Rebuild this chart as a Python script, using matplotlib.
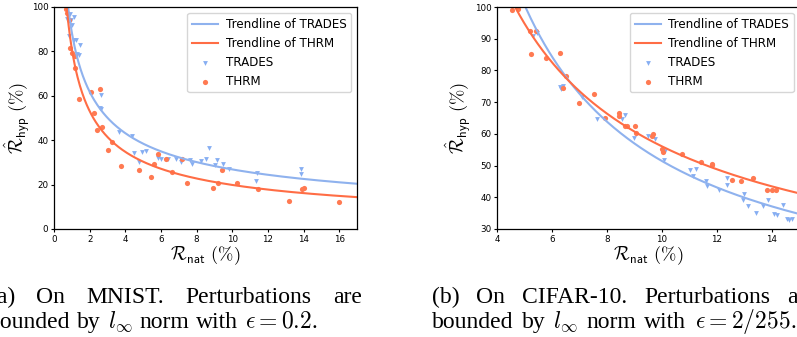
import numpy as np
import matplotlib
matplotlib.use("Agg")
import matplotlib.pyplot as plt

# ---------------------------------------------------------
# Data
# ---------------------------------------------------------
# (a) MNIST
mnist_trades_x = [0.71, 0.80, 0.89, 0.93, 1.00, 0.86, 1.10, 1.15, 1.26, 1.45, 1.30, 1.40,
                  2.66, 2.57, 2.65, 3.62, 4.39, 4.48, 4.94, 5.17, 4.78, 5.85, 6.00, 6.38,
                  6.84, 7.12, 7.62, 7.73, 8.23, 8.50, 8.70, 9.03, 9.12, 9.48, 9.81, 11.39,
                  11.36, 13.85, 13.85]
mnist_trades_y = [94.4, 96.0, 97.0, 94.0, 92.0, 87.0, 95.5, 85.0, 85.0, 83.0, 79.0, 78.5,
                  60.2, 54.6, 54.0, 43.7, 41.7, 34.2, 34.7, 35.1, 30.2, 32.1, 31.4, 31.7,
                  31.4, 30.2, 31.2, 29.1, 30.5, 31.4, 36.5, 29.0, 31.2, 29.1, 26.9, 25.2,
                  21.6, 27.2, 24.9]
mnist_thrm_x = [0.65, 0.72, 0.85, 0.89, 0.99, 1.17, 1.17, 1.41, 2.06, 2.25, 2.42, 2.57,
                2.70, 3.27, 3.03, 3.77, 4.76, 5.46, 5.63, 5.82, 6.28, 6.62, 7.16, 7.45,
                8.94, 9.18, 9.40, 10.26, 11.45, 13.20, 13.90, 14.00, 15.98]
mnist_thrm_y = [99.0, 97.5, 94.0, 81.5, 79.4, 77.9, 72.7, 58.7, 61.7, 52.3, 44.4, 63.2,
                46.0, 39.3, 35.7, 28.4, 26.4, 23.3, 29.4, 33.9, 31.4, 25.7, 31.5, 20.6,
                18.3, 20.6, 26.7, 20.9, 17.9, 12.6, 17.9, 18.5, 12.2]

# (b) CIFAR-10
cifar_trades_x = [5.30, 5.44, 6.29, 6.39, 6.33, 7.08, 7.65, 8.53, 8.65, 8.98, 9.50, 9.73,
                  10.11, 10.09, 11.02, 11.24, 11.12, 11.60, 11.63, 12.06, 12.37, 12.37,
                  12.99, 12.96, 13.14, 13.42, 13.66, 13.87, 14.07, 14.17, 14.39, 14.53,
                  14.60, 14.72]
cifar_trades_y = [90.7, 91.8, 74.8, 75.0, 74.2, 71.6, 64.8, 64.6, 65.8, 58.7, 59.2, 58.5,
                  54.6, 51.8, 48.5, 48.8, 46.6, 45.0, 43.5, 42.2, 46.2, 43.9,
                  41.1, 39.3, 37.4, 35.0, 37.4, 39.3, 34.8, 34.5, 37.7, 33.2,
                  32.7, 33.2]
cifar_thrm_x = [4.53, 4.75, 5.20, 5.42, 5.23, 5.78, 6.29, 6.51, 6.41, 6.97, 7.54, 7.93,
                8.45, 8.45, 8.65, 8.74, 9.02, 9.04, 9.63, 9.69, 10.01, 10.05, 10.72,
                11.42, 11.81, 11.81, 12.53, 12.86, 13.30, 13.81, 14.00, 14.15]
cifar_thrm_y = [99.2, 99.4, 92.4, 92.4, 85.3, 84.0, 85.6, 78.1, 74.6, 69.8, 72.7, 65.1,
                66.6, 65.5, 62.4, 62.4, 62.4, 60.3, 59.3, 59.9, 55.3, 54.3, 53.7,
                51.0, 50.6, 50.1, 45.5, 45.1, 46.2, 42.4, 42.4, 42.4]

caption_a = ["(a) On MNIST. Perturbations are",
             r"bounded by $l_\infty$ norm with $\epsilon = 0.2$."]
caption_b = ["(b) On CIFAR-10. Perturbations are",
             r"bounded by $l_\infty$ norm with $\epsilon = 2/255$."]

blue_line = "#8fb2ee"
red_line = "#ff6d45"
blue_pts = "#86aef2"
red_pts = "#ff7a52"


def power_fit(x, y):
    # trendline y = a * x^b, fitted in log-log space
    b, loga = np.polyfit(np.log(x), np.log(y), 1)
    return np.exp(loga), b


W, H = 797, 337
fig = plt.figure(figsize=(W / 100, H / 100), dpi=100)


def px_axes(left, right, top, bottom):
    return fig.add_axes([left / W, 1 - bottom / H, (right - left) / W, (bottom - top) / H])


def draw_panel(ax, tx, ty, hx, hy, xlim, ylim, xticks, yticks, ylab_x):
    grid = np.linspace(xlim[0] + 0.05, xlim[1], 400)
    a, b = power_fit(tx, ty)
    ax.plot(grid, a * grid ** b, color=blue_line, lw=1.5, label="Trendline of TRADES")
    a, b = power_fit(hx, hy)
    ax.plot(grid, a * grid ** b, color=red_line, lw=1.5, label="Trendline of THRM")
    ax.scatter(tx, ty, marker="v", s=12, color=blue_pts, lw=0, label="TRADES")
    ax.scatter(hx, hy, marker="o", s=14, color=red_pts, lw=0, label="THRM")
    ax.set_xlim(*xlim)
    ax.set_ylim(*ylim)
    ax.set_xticks(xticks)
    ax.set_yticks(yticks)
    ax.tick_params(labelsize=6.3, length=2.5, width=0.8, pad=1.5)
    for s in ax.spines.values():
        s.set_linewidth(0.9)
    ax.set_xlabel(r"$\mathcal{R}_{\mathsf{nat}}\ (\%)$", fontsize=13.3, math_fontfamily="cm")
    ax.set_ylabel(r"$\hat{\mathcal{R}}_{\mathsf{hyp}}\ (\%)$", fontsize=13.3, math_fontfamily="cm")
    ax.xaxis.set_label_coords(0.5, -0.07)
    ax.yaxis.set_label_coords(ylab_x, 0.5)
    ax.legend(loc="upper right", fontsize=8.6, scatterpoints=1, borderaxespad=0.5,
              handlelength=2.2, handletextpad=0.6, labelspacing=0.5)


ax1 = px_axes(54, 357, 7, 229)
draw_panel(ax1, mnist_trades_x, mnist_trades_y, mnist_thrm_x, mnist_thrm_y,
           (0, 17), (0, 100), range(0, 17, 2), range(0, 101, 20), -0.072)

ax2 = px_axes(497, 799.5, 7, 229)
draw_panel(ax2, cifar_trades_x, cifar_trades_y, cifar_thrm_x, cifar_thrm_y,
           (4, 15), (30, 100), range(4, 15, 2), range(30, 101, 10), -0.08)

# ---------------------------------------------------------
# Captions: LaTeX-style justified lines, placed word by word
# ---------------------------------------------------------
cap = dict(family="Liberation Serif", fontsize=17, va="baseline", ha="left",
           math_fontfamily="cm")
renderer = fig.canvas.get_renderer()


def split_words(line):
    # keep "$...$" groups together as one word
    out, cur, in_math = [], "", False
    for ch in line:
        if ch == "$":
            in_math = not in_math
        if ch == " " and not in_math:
            out.append(cur)
            cur = ""
        else:
            cur += ch
    out.append(cur)
    return out


def justify(line, x0, x1, baseline):
    words = split_words(line)
    texts = [fig.text(0, 1 - baseline / H, w, **cap) for w in words]
    widths = [t.get_window_extent(renderer).width for t in texts]
    gap = (x1 - x0 - sum(widths)) / (len(words) - 1)
    x = x0
    for t, w in zip(texts, widths):
        t.set_x(x / W)
        x += w + gap


justify(caption_a[0], -11.5, 361.7, 302.7)
justify(caption_a[1], -11.5, 318, 328)
justify(caption_b[0], 431.7, 816, 302.7)
justify(caption_b[1], 431.7, 796, 328)

fig.savefig("out.png", dpi=100)
